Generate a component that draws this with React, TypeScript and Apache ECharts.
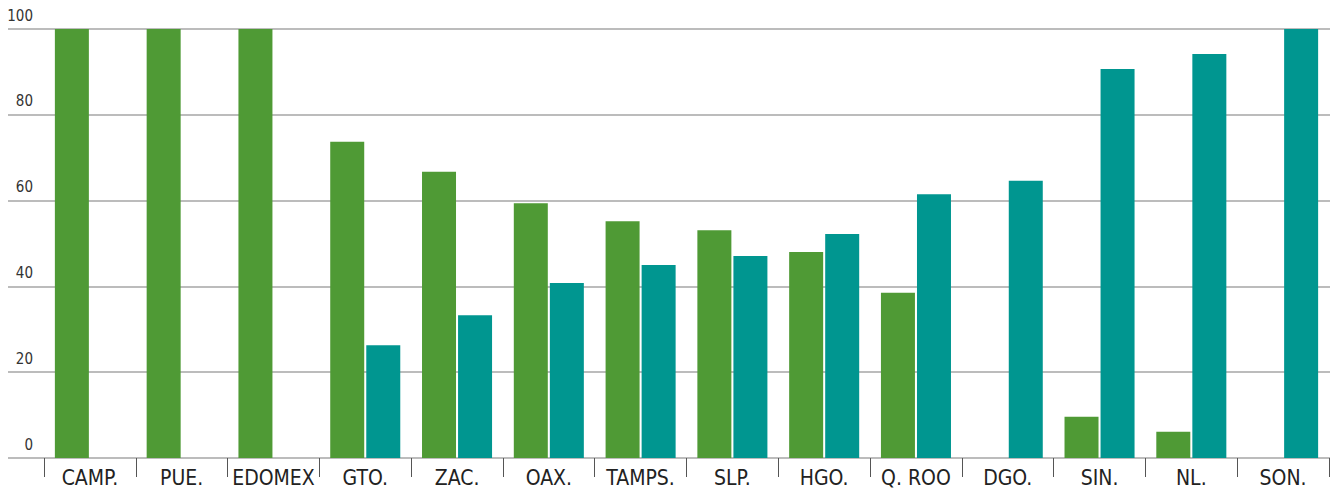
import React, { useEffect, useRef } from "react";
import * as echarts from "echarts";

const categories = ["CAMP.", "PUE.", "EDOMEX", "GTO.", "ZAC.", "OAX.", "TAMPS.", "SLP.", "HGO.", "Q. ROO", "DGO.", "SIN.", "NL.", "SON."];
const greenValues: (number | null)[] = [100, 100, 100, 73.7, 66.7, 59.4, 55.2, 53.1, 48.0, 38.5, null, 9.6, 6.1, null];
const tealValues: (number | null)[] = [null, null, null, 26.3, 33.3, 40.8, 45.0, 47.1, 52.2, 61.5, 64.6, 90.7, 94.2, 100];
const yTicks = { min: 0, max: 100, interval: 20 };

const FONT = "'Liberation Sans Narrow', 'DejaVu Sans Condensed', 'Roboto Condensed', 'Liberation Sans', sans-serif";

export default function App() {
  const ref = useRef<HTMLDivElement>(null);
  useEffect(() => {
    if (!ref.current) return;
    const chart = echarts.init(ref.current, null, { renderer: "svg" });
    chart.setOption({
      animation: false,
      backgroundColor: "#ffffff",
      grid: [
        { left: 44, right: 6, top: 29, bottom: 31 },
        { left: 8, right: 5, top: 29, bottom: 31 },
      ],
      xAxis: [
        {
          type: "category",
          gridIndex: 0,
          data: categories,
          axisLine: { show: false },
          axisTick: { show: true, interval: 0, length: 19, lineStyle: { color: "#555", width: 1 } },
          axisLabel: { interval: 0, color: "#222", fontSize: 21, fontFamily: FONT, margin: 9 },
        },
        { type: "value", gridIndex: 1, min: 0, max: 1, show: false },
      ],
      yAxis: [
        { type: "value", gridIndex: 0, min: yTicks.min, max: yTicks.max, interval: yTicks.interval, show: false },
        {
          type: "value",
          gridIndex: 1,
          min: yTicks.min,
          max: yTicks.max,
          interval: yTicks.interval,
          axisLine: { show: false },
          axisTick: { show: false },
          splitLine: { show: true, lineStyle: { color: "#a6a6a6", width: 1.5 } },
          axisLabel: {
            inside: true,
            align: "right",
            margin: 25,
            verticalAlign: "bottom",
            padding: [0, 0, 6, 0],
            color: "#333",
            fontSize: 15,
            fontFamily: FONT,
          },
        },
      ],
      series: [
        {
          type: "bar",
          xAxisIndex: 0,
          yAxisIndex: 0,
          data: greenValues,
          barWidth: 34,
          barGap: "6%",
          itemStyle: { color: "#4f9a35" },
          z: 3,
        },
        {
          type: "bar",
          xAxisIndex: 0,
          yAxisIndex: 0,
          data: tealValues,
          barWidth: 34,
          barGap: "6%",
          itemStyle: { color: "#009690" },
          z: 3,
        },
      ],
    });
    return () => chart.dispose();
  }, []);
  return <div ref={ref} style={{ width: 1335, height: 489, position: "absolute", left: 0, top: 0 }} />;
}
